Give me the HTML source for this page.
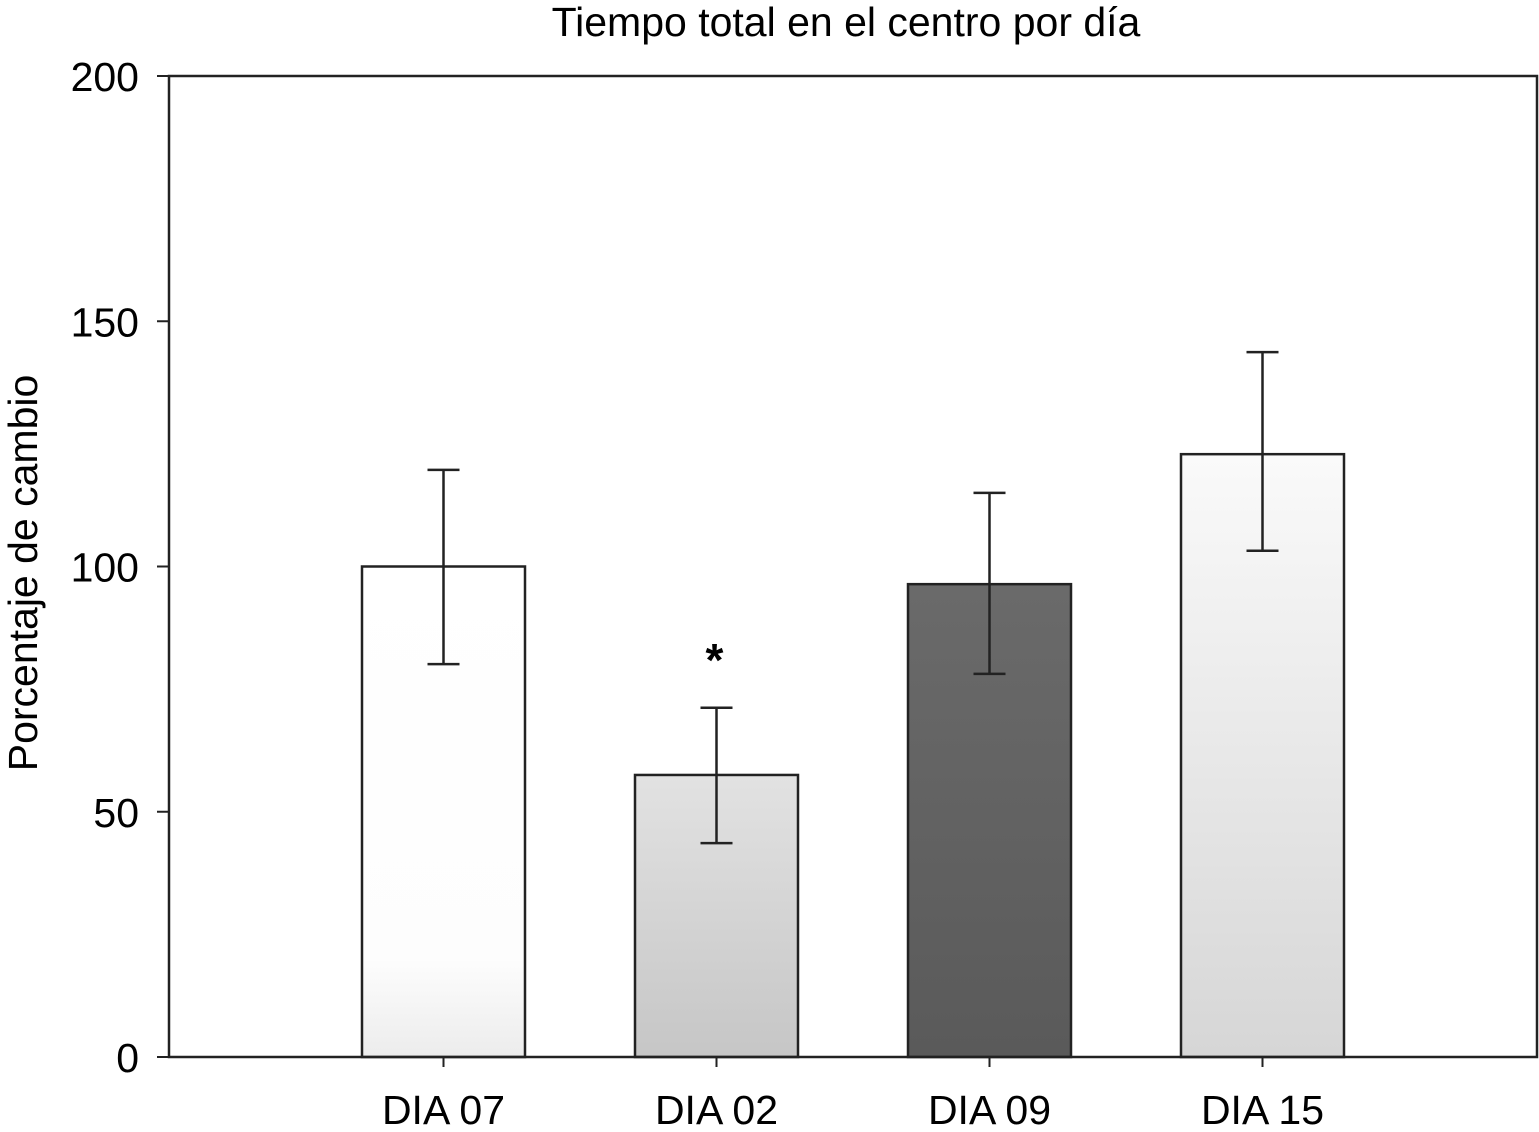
<!DOCTYPE html>
<html><head><meta charset="utf-8"><style>
body{margin:0;background:#fff}
svg{display:block;font-family:"Liberation Sans",sans-serif}
</style></head><body>
<svg id="chart" width="1539" height="1132">
<defs>
<linearGradient id="g0" x1="0" y1="0" x2="0" y2="1"><stop offset="0" stop-color="#fff"/><stop offset="0.8" stop-color="#fdfdfd"/><stop offset="1" stop-color="#ececec"/></linearGradient>
<linearGradient id="g1" x1="0" y1="0" x2="0" y2="1"><stop offset="0" stop-color="#e2e2e2"/><stop offset="1" stop-color="#c6c6c6"/></linearGradient>
<linearGradient id="g2" x1="0" y1="0" x2="0" y2="1"><stop offset="0" stop-color="#6a6a6a"/><stop offset="1" stop-color="#5a5a5a"/></linearGradient>
<linearGradient id="g3" x1="0" y1="0" x2="0" y2="1"><stop offset="0" stop-color="#fafafa"/><stop offset="1" stop-color="#d6d6d6"/></linearGradient>
</defs>
<text x="846" y="36" font-size="41" text-anchor="middle">Tiempo total en el centro por día</text>
<text transform="translate(37,573) rotate(-90)" font-size="41" text-anchor="middle">Porcentaje de cambio</text>
<g id="plot"></g>
</svg>
<script>
const categories=["DIA 07","DIA 02","DIA 09","DIA 15"];
const values=[100,57.5,96.4,122.9];
const errHigh=[119.7,71.2,115,143.7];
const errLow=[80.1,43.6,78.1,103.2];
const yTicks=[0,50,100,150,200];
const fills=["url(#g0)","url(#g1)","url(#g2)","url(#g3)"];
const L=169,R=1537,T=76,B=1057;
const y=v=>B-(v/200)*(B-T);
const cx=i=>443.5+i*273;
const bw=163;
const ns="http://www.w3.org/2000/svg";
const g=document.getElementById('plot');
function mk(t,a){const e=document.createElementNS(ns,t);for(const k in a)e.setAttribute(k,a[k]);g.appendChild(e);return e;}
categories.forEach((c,i)=>{
  const r=mk('rect',{x:cx(i)-bw/2,y:y(values[i]),width:bw,height:B-y(values[i]),fill:fills[i],stroke:'#222','stroke-width':2.5});
  
  
  const e=mk('path',{d:`M${cx(i)},${y(errHigh[i])}V${y(errLow[i])}M${cx(i)-16},${y(errHigh[i])}H${cx(i)+16}M${cx(i)-16},${y(errLow[i])}H${cx(i)+16}`,stroke:'#222','stroke-width':2.5,fill:'none'});
  
  
  const t=mk('line',{x1:cx(i),x2:cx(i),y1:B,y2:B+10,stroke:'#222','stroke-width':2});
  
  
  const l=mk('text',{x:cx(i),y:1124,'font-size':41,'text-anchor':'middle'});
  l.textContent=c;
  
  
});
yTicks.forEach(v=>{
  const t=mk('line',{x1:L-12,x2:L,y1:y(v),y2:y(v),stroke:'#222','stroke-width':2});
  
  
  const l=mk('text',{x:L-30,y:y(v)+15,'font-size':41,'text-anchor':'end'});
  l.textContent=v;
  
  
});
const f=mk('rect',{x:L,y:T,width:R-L,height:B-T,fill:'none',stroke:'#222','stroke-width':2.5});


const s=mk('text',{x:cx(1)-2,y:676,'font-size':46,'text-anchor':'middle','font-weight':'bold'});
s.textContent='*';


</script>
</body></html>
